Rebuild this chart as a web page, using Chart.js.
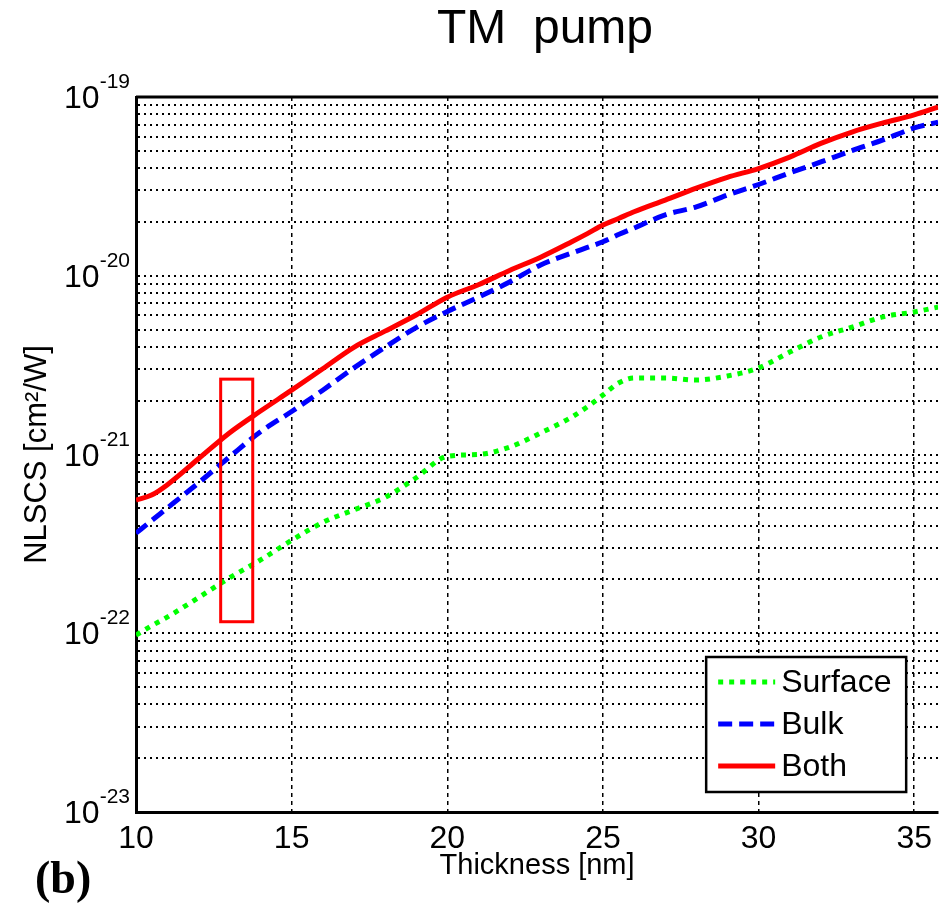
<!DOCTYPE html>
<html>
<head>
<meta charset="utf-8">
<script src="https://cdn.jsdelivr.net/npm/chart.js@4.4.0/dist/chart.umd.min.js"></script>
<style>
  html, body { margin: 0; padding: 0; background: #fff; }
  canvas { display: block; }
</style>
</head>
<body>
<canvas id="nlscsChart" width="940" height="903"></canvas>
<script>
// thickness samples [nm]
const thickness = [10, 10.5, 11, 12, 13, 14, 15, 16, 17, 18, 19, 20, 21, 22, 23, 24, 24.5,
  25, 25.5, 26, 27, 28, 29, 30, 31, 32, 33, 34, 35, 35.77];

// NLSCS [cm^2/W]
const surface = [9.77e-23, 1.10e-22, 1.23e-22, 1.58e-22, 2.04e-22, 2.57e-22, 3.31e-22, 4.17e-22,
  4.90e-22, 5.75e-22, 7.41e-22, 9.77e-22, 1.00e-21, 1.10e-21, 1.32e-21, 1.62e-21, 1.85e-21,
  2.15e-21, 2.51e-21, 2.68e-21, 2.68e-21, 2.61e-21, 2.75e-21, 3.05e-21, 3.74e-21, 4.54e-21,
  5.16e-21, 5.89e-21, 6.27e-21, 6.68e-21];
const bulk = [3.63e-22, 4.27e-22, 5.01e-22, 6.92e-22, 9.68e-22, 1.34e-21, 1.74e-21, 2.29e-21,
  3.05e-21, 3.98e-21, 5.13e-21, 6.31e-21, 7.59e-21, 9.23e-21, 1.15e-20, 1.34e-20, 1.44e-20,
  1.55e-20, 1.70e-20, 1.85e-20, 2.19e-20, 2.43e-20, 2.83e-20, 3.24e-20, 3.76e-20, 4.33e-20,
  5.01e-20, 5.75e-20, 6.71e-20, 7.24e-20];
const both = [5.56e-22, 5.93e-22, 6.76e-22, 9.44e-22, 1.32e-21, 1.75e-21, 2.29e-21, 3.02e-21,
  3.98e-21, 4.90e-21, 6.03e-21, 7.59e-21, 8.91e-21, 1.07e-20, 1.27e-20, 1.55e-20, 1.72e-20,
  1.92e-20, 2.09e-20, 2.28e-20, 2.65e-20, 3.09e-20, 3.55e-20, 3.98e-20, 4.61e-20, 5.50e-20,
  6.37e-20, 7.16e-20, 7.94e-20, 8.79e-20];

const xTicks = [10, 15, 20, 25, 30, 35];
const yDecades = [-23, -22, -21, -20, -19];

// highlighted region (red rectangle)
const boxX = [12.72, 13.75];
const boxY = [1.16e-22, 2.64e-21];

const FONT = "'Liberation Sans', Arial, sans-serif";
Chart.defaults.font.family = FONT;
Chart.defaults.color = '#000';

const toPoints = vals => vals.map((v, i) => ({ x: thickness[i], y: v }));

const decorations = {
  id: 'decorations',
  afterDatasetsDraw(chart) {
    const { ctx, chartArea, scales: { x, y } } = chart;
    ctx.save();

    // top frame line
    ctx.strokeStyle = '#000';
    ctx.lineWidth = 3;
    ctx.beginPath();
    ctx.moveTo(chartArea.left, chartArea.top);
    ctx.lineTo(chartArea.right, chartArea.top);
    ctx.stroke();

    // red rectangle
    const bx1 = x.getPixelForValue(boxX[0]), bx2 = x.getPixelForValue(boxX[1]);
    const by1 = y.getPixelForValue(boxY[1]), by2 = y.getPixelForValue(boxY[0]);
    ctx.strokeStyle = '#ff0000';
    ctx.lineWidth = 3;
    ctx.strokeRect(bx1, by1, bx2 - bx1, by2 - by1);

    // legend box
    const lw = 200, lh = 135;
    const lx = chartArea.right - 32 - lw;
    const ly = chartArea.bottom - 20 - lh;
    ctx.fillStyle = '#fff';
    ctx.fillRect(lx, ly, lw, lh);
    ctx.strokeStyle = '#000';
    ctx.lineWidth = 2.5;
    ctx.strokeRect(lx, ly, lw, lh);
    ctx.font = '32px ' + FONT;
    ctx.textBaseline = 'middle';
    ctx.textAlign = 'left';
    chart.data.datasets.forEach((ds, i) => {
      const ry = ly + 25 + i * 42;
      ctx.strokeStyle = ds.borderColor;
      ctx.lineWidth = 5;
      ctx.setLineDash(ds.borderDash || []);
      ctx.beginPath();
      ctx.moveTo(lx + 12, ry);
      ctx.lineTo(lx + 69, ry);
      ctx.stroke();
      ctx.setLineDash([]);
      ctx.fillStyle = '#000';
      ctx.fillText(ds.label, lx + 75, ry + 1);
    });
    ctx.restore();
  },
  afterDraw(chart) {
    const { ctx, chartArea, scales: { y } } = chart;
    ctx.save();
    ctx.fillStyle = '#000';

    // title
    ctx.font = '48px ' + FONT;
    ctx.textAlign = 'center';
    ctx.textBaseline = 'alphabetic';
    ctx.fillText('TM  pump', 545, 43);

    // y tick labels with superscript exponents
    const rx = chartArea.left - 6;
    yDecades.forEach(e => {
      const py = y.getPixelForValue(Math.pow(10, e));
      const exp = String(e);
      ctx.font = '21px ' + FONT;
      ctx.textAlign = 'right';
      const ew = ctx.measureText(exp).width;
      ctx.fillText(exp, rx, py - 9);
      ctx.font = '32px ' + FONT;
      ctx.fillText('10', rx - ew, py + 11);
    });

    // panel label
    ctx.font = "bold 46px 'Liberation Serif', 'Times New Roman', serif";
    ctx.textAlign = 'left';
    ctx.fillText('(b)', 35, 893);
    ctx.restore();
  }
};

new Chart(document.getElementById('nlscsChart').getContext('2d'), {
  type: 'line',
  data: {
    datasets: [
      { label: 'Surface', data: toPoints(surface), borderColor: '#00ff00', borderDash: [5, 6] },
      { label: 'Bulk', data: toPoints(bulk), borderColor: '#0000ff', borderDash: [14, 7] },
      { label: 'Both', data: toPoints(both), borderColor: '#ff0000' }
    ]
  },
  options: {
    responsive: false,
    animation: false,
    layout: { padding: { top: 97, right: 0, left: 0, bottom: 0 } },
    elements: {
      line: { borderWidth: 5, cubicInterpolationMode: 'monotone', fill: false },
      point: { radius: 0 }
    },
    plugins: {
      legend: { display: false },
      tooltip: { enabled: false },
      title: { display: false }
    },
    scales: {
      x: {
        type: 'linear',
        min: 10,
        max: 35.77,
        afterBuildTicks: s => { s.ticks = xTicks.map(v => ({ value: v })); },
        afterFit: s => { s.height = 91; },
        ticks: { font: { size: 32 }, color: '#000', padding: 8, maxRotation: 0 },
        grid: { color: '#000', lineWidth: 1.5, drawTicks: false },
        border: { color: '#000', width: 3, dash: [4, 4] },
        title: {
          display: true, text: 'Thickness [nm]', color: '#000',
          font: { size: 29 }, padding: { top: 0, bottom: 20 }
        }
      },
      y: {
        type: 'logarithmic',
        min: 1e-23,
        max: 1e-19,
        afterBuildTicks: s => {
          const t = [];
          yDecades.forEach(e => {
            for (let k = 1; k <= 9; k++) {
              if (e === yDecades[yDecades.length - 1] && k > 1) break;
              t.push({ value: Number(k + 'e' + e) });
            }
          });
          s.ticks = t;
        },
        afterFit: s => { s.width = 136; },
        ticks: { display: false },
        grid: { color: '#000', lineWidth: 2, drawTicks: false },
        border: { color: '#000', width: 3, dash: [2, 4] },
        title: {
          display: true, text: 'NLSCS [cm²/W]', color: '#000',
          font: { size: 31 }, padding: { top: 19, bottom: 0 }
        }
      }
    }
  },
  plugins: [decorations]
});
</script>
</body>
</html>
